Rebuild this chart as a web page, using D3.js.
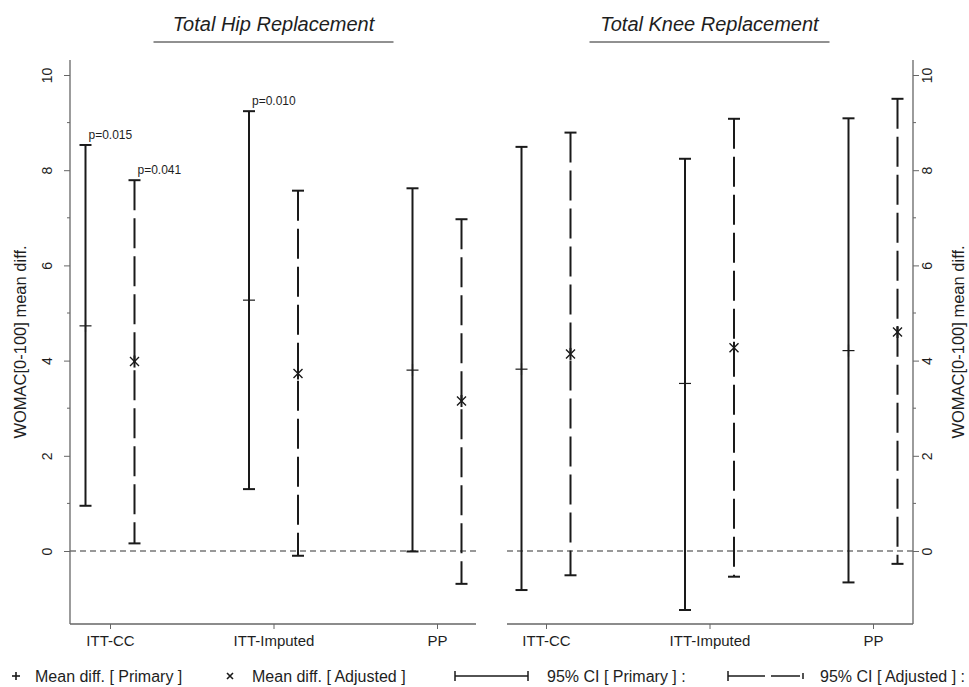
<!DOCTYPE html>
<html><head><meta charset="utf-8">
<script src="https://cdn.jsdelivr.net/npm/d3@7"></script>
<style>body{margin:0;background:#fff}svg{display:block;font-family:"Liberation Sans",Arial,sans-serif}</style>
</head><body><svg id="c" width="969" height="687"></svg>
<script>
const categories = ["ITT-CC", "ITT-Imputed", "PP"];
const panels = ["Total Hip Replacement", "Total Knee Replacement"];
// THR
const thrPrimaryMean = [4.73, 5.27, 3.80];
const thrPrimaryLow  = [0.95, 1.30, -0.01];
const thrPrimaryHigh = [8.53, 9.24, 7.62];
const thrAdjMean = [3.98, 3.73, 3.15];
const thrAdjLow  = [0.16, -0.10, -0.69];
const thrAdjHigh = [7.79, 7.57, 6.97];
const thrPvals = [{cat:"ITT-CC", series:"primary", text:"p=0.015"}, {cat:"ITT-CC", series:"adjusted", text:"p=0.041"}, {cat:"ITT-Imputed", series:"primary", text:"p=0.010"}];
// TKR
const tkrPrimaryMean = [3.82, 3.52, 4.21];
const tkrPrimaryLow  = [-0.82, -1.24, -0.66];
const tkrPrimaryHigh = [8.49, 8.24, 9.09];
const tkrAdjMean = [4.14, 4.27, 4.60];
const tkrAdjLow  = [-0.51, -0.54, -0.27];
const tkrAdjHigh = [8.79, 9.08, 9.50];
const yTicks = [0, 2, 4, 6, 8, 10];
const yMinor = [1, 3, 5, 7, 9];
const yTitle = "WOMAC[0-100] mean diff.";
const legendLabels = ["Mean diff. [ Primary ]", "Mean diff. [ Adjusted ]", "95% CI [ Primary ] :", "95% CI [ Adjusted ] :"];

const svg = d3.select("#c");
const y = d3.scaleLinear().domain([0, 10]).range([551, 75]);
const yTop = 60, yBot = 624;
const axisCol = "#666", barCol = "#1a1a1a", txtCol = "#1e1e1e";
const offset = 24.5;
const FF = '"Liberation Sans",Arial,sans-serif';

const panelDefs = [
  {title: panels[0], x0: 70, x1: 476, range:[110, 437], side:"left",
   pm: thrPrimaryMean, pl: thrPrimaryLow, ph: thrPrimaryHigh, am: thrAdjMean, al: thrAdjLow, ah: thrAdjHigh, pv: thrPvals},
  {title: panels[1], x0: 507, x1: 913, range:[546, 873], side:"right",
   pm: tkrPrimaryMean, pl: tkrPrimaryLow, ph: tkrPrimaryHigh, am: tkrAdjMean, al: tkrAdjLow, ah: tkrAdjHigh, pv: []}
];

panelDefs.forEach(p => {
  const x = d3.scalePoint().domain(categories).range(p.range);
  const g = svg.append("g");
  // title
  const cx = x("ITT-Imputed");
  g.append("text").attr("x", cx).attr("y", 31).attr("text-anchor","middle")
    .attr("font-size", 20).attr("font-style","italic").attr("fill",txtCol).text(p.title);
  g.append("line").attr("x1", cx-120).attr("x2", cx+120).attr("y1", 42).attr("y2", 42)
    .attr("stroke","#222").attr("stroke-width",1);
  // zero line
  g.append("line").attr("x1", p.x0).attr("x2", p.x1).attr("y1", y(0)).attr("y2", y(0))
    .attr("stroke","#777").attr("stroke-width",1.3).attr("stroke-dasharray","6,4");
  // x axis
  const xa = d3.axisBottom(x).tickSize(5).tickPadding(4);
  const xg = g.append("g").attr("transform", `translate(0,${yBot})`).call(xa);
  xg.select(".domain").remove();
  xg.append("line").attr("x1", p.x0).attr("x2", p.x1).attr("stroke", axisCol).attr("stroke-width",1.3);
  xg.selectAll(".tick line").attr("stroke", axisCol);
  xg.selectAll(".tick text").attr("dy", null).attr("y", 22).attr("font-size", 15).attr("fill",txtCol).attr("font-family",FF);
  // y axis
  const ax = p.side === "left" ? p.x0 : p.x1;
  const ya = (p.side === "left" ? d3.axisLeft(y) : d3.axisRight(y)).tickValues(yTicks).tickSize(6).tickFormat(d3.format("d"));
  const yg = g.append("g").attr("transform", `translate(${ax},0)`).call(ya);
  yg.select(".domain").remove();
  yg.append("line").attr("y1", yTop).attr("y2", yBot).attr("stroke", axisCol).attr("stroke-width",1.3);
  yg.selectAll(".tick line").attr("stroke", axisCol);
  const lblOff = p.side === "left" ? -18 : 19;
  yg.selectAll(".tick text").attr("x", null).attr("dy", null)
    .attr("text-anchor","middle").attr("font-size", 14).attr("fill",txtCol)
    .attr("font-family",FF)
    .attr("transform", `translate(${lblOff},0) rotate(-90)`);
  const dir = p.side === "left" ? -1 : 1;
  yg.selectAll(".minor").data(yMinor).enter().append("line")
    .attr("x1", 0).attr("x2", dir*3).attr("y1", d=>y(d)).attr("y2", d=>y(d)).attr("stroke", axisCol);
  // y title
  const tx = p.side === "left" ? 26 : 964;
  g.append("text").attr("transform", `translate(${tx},${(yTop+yBot)/2}) rotate(-90)`)
    .attr("text-anchor","middle").attr("font-size",16.5).attr("fill",txtCol).text(yTitle);

  // bars
  const series = [
    {m: p.pm, l: p.pl, h: p.ph, off: -offset, dash: null, marker: "plus", name:"primary"},
    {m: p.am, l: p.al, h: p.ah, off: offset, dash: "30,8", marker: "x", name:"adjusted"}
  ];
  series.forEach(s => {
    categories.forEach((c, i) => {
      const bx = x(c) + s.off;
      g.append("line").attr("x1", bx).attr("x2", bx).attr("y1", y(s.h[i])).attr("y2", y(s.l[i]))
        .attr("stroke", barCol).attr("stroke-width", 2).attr("stroke-dasharray", s.dash);
      [s.l[i], s.h[i]].forEach(v => {
        g.append("line").attr("x1", bx-6).attr("x2", bx+6).attr("y1", y(v)).attr("y2", y(v))
          .attr("stroke", barCol).attr("stroke-width", 2);
      });
      const my = y(s.m[i]);
      if (s.marker === "plus") {
        g.append("line").attr("x1", bx-6).attr("x2", bx+6).attr("y1", my).attr("y2", my).attr("stroke", barCol).attr("stroke-width",1.2);
        g.append("line").attr("x1", bx).attr("x2", bx).attr("y1", my-6).attr("y2", my+6).attr("stroke", barCol).attr("stroke-width",1.2);
      } else {
        const r = 4.5;
        g.append("path").attr("d", `M${bx-r},${my-r}L${bx+r},${my+r}M${bx-r},${my+r}L${bx+r},${my-r}`)
          .attr("stroke", barCol).attr("stroke-width",1.4).attr("fill","none");
        g.append("line").attr("x1", bx).attr("x2", bx).attr("y1", my-6).attr("y2", my+6).attr("stroke", barCol).attr("stroke-width",2);
      }
    });
    p.pv.filter(d => d.series === s.name).forEach(d => {
      const i = categories.indexOf(d.cat);
      g.append("text").attr("x", x(d.cat) + s.off + 3).attr("y", y(s.h[i]) - 6)
        .attr("font-size", 12).attr("fill",txtCol).text(d.text);
    });
  });
});

// legend
const ly = 682;
const lg = svg.append("g").attr("font-size", 16).attr("fill",txtCol);
const lmy = 676;
lg.append("line").attr("x1", 12).attr("x2", 20).attr("y1", lmy).attr("y2", lmy).attr("stroke", barCol).attr("stroke-width",1.6);
lg.append("line").attr("x1", 16).attr("x2", 16).attr("y1", lmy-4).attr("y2", lmy+4).attr("stroke", barCol).attr("stroke-width",1.6);
lg.append("text").attr("x", 35).attr("y", ly).attr("fill",txtCol).text(legendLabels[0]);
lg.append("path").attr("d", `M227,${lmy-3}L233,${lmy+3}M227,${lmy+3}L233,${lmy-3}`).attr("stroke", barCol).attr("stroke-width",1.6);
lg.append("text").attr("x", 252).attr("y", ly).attr("fill",txtCol).text(legendLabels[1]);
lg.append("line").attr("x1", 455).attr("x2", 528).attr("y1", lmy).attr("y2", lmy).attr("stroke", barCol).attr("stroke-width",1.5);
lg.append("line").attr("x1", 455).attr("x2", 455).attr("y1", lmy-5).attr("y2", lmy+5).attr("stroke", barCol).attr("stroke-width",1.5);
lg.append("line").attr("x1", 528).attr("x2", 528).attr("y1", lmy-5).attr("y2", lmy+5).attr("stroke", barCol).attr("stroke-width",1.5);
lg.append("text").attr("x", 547).attr("y", ly).attr("fill",txtCol).text(legendLabels[2]);
lg.append("line").attr("x1", 728).attr("x2", 765).attr("y1", lmy).attr("y2", lmy).attr("stroke", barCol).attr("stroke-width",1.5);
lg.append("line").attr("x1", 771).attr("x2", 800).attr("y1", lmy).attr("y2", lmy).attr("stroke", barCol).attr("stroke-width",1.5);
lg.append("line").attr("x1", 728).attr("x2", 728).attr("y1", lmy-5).attr("y2", lmy+5).attr("stroke", barCol).attr("stroke-width",1.5);
lg.append("line").attr("x1", 803).attr("x2", 803).attr("y1", lmy-3).attr("y2", lmy+3).attr("stroke", barCol).attr("stroke-width",1.5);
lg.append("text").attr("x", 820).attr("y", ly).attr("fill",txtCol).text(legendLabels[3]);
</script></body></html>
